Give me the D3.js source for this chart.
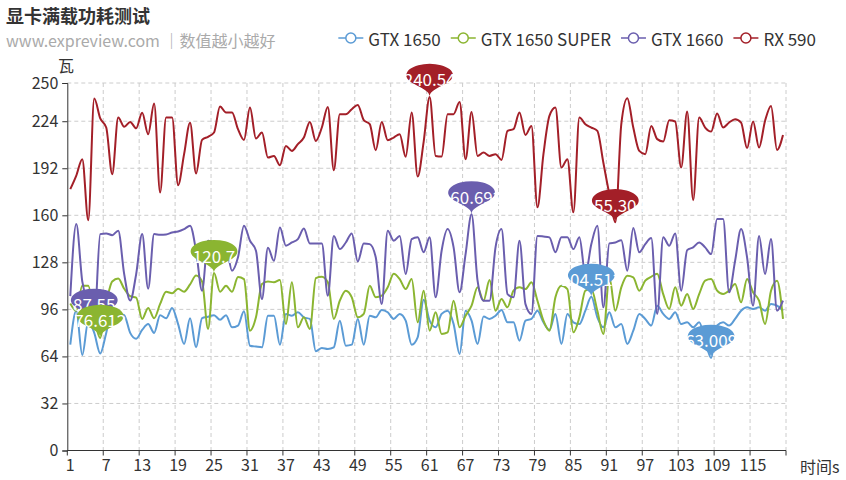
<!DOCTYPE html>
<html><head><meta charset="utf-8">
<script src="https://cdn.jsdelivr.net/npm/d3@7/dist/d3.min.js"></script>
<style>
body{margin:0;background:#fff;}
svg{display:block;font-family:"Noto Sans CJK SC","Noto Sans",sans-serif;}
</style></head><body><svg id="chart" width="846" height="480"></svg>
<script>
const titleText = "显卡满载功耗测试";
const subtitleText = "www.expreview.com ｜数值越小越好";
const xAxisName = "时间s";
const yAxisName = "瓦";
const categories = d3.range(1, 121).map(String);
const xTickLabels = ["1","7","13","19","25","31","37","43","49","55","61","67","73","79","85","91","97","103","109","115"];
const yTickValues = [0, 32, 64, 96, 128, 160, 192, 224, 250];
const seriesNames = ["GTX 1650", "GTX 1650 SUPER", "GTX 1660", "RX 590"];
const seriesColors = ["#5b9bd5", "#8bb531", "#6a5eae", "#a31f28"];

const gtx1650 = [72,95,65,88,80,66,80,96,93,92,80,76,82,86,80,92,90,97,86,72.5,
  90,70.2,90,91,92,89,92,83.8,85,94.7,71.3,70.7,70.2,91.7,91.7,72,92.9,91.7,94,90.6,
  89.5,67.5,69.8,69.1,70.2,88.3,71.3,72,89.5,72,91.7,90.6,95.6,94,89.5,92.9,88.3,72,77,102.5,
  88.3,83.8,92.9,95.1,86,65.7,95.1,88.3,72.5,91.1,89.5,91.7,95.6,87.2,87.2,74.7,88.3,89.5,95.1,87.2,
  82,92.9,72.5,92.9,87.2,86,95.1,104.513,90.6,83.8,94,83.8,86,72.5,81.5,92.9,89.5,85,98.5,92.9,
  89.5,94,86,87.2,83.8,87.2,75,63.009,85,87.2,85,89.5,95.1,97.4,96.3,97.4,95.1,99.7,98.5,95.1];

const gtx1650super = [100,95,112,112,90,76.612,100,115,117,110,105,104,89.5,97,90,99.7,108,107,110,108,
  113,119,115,82.7,120.7,108,112,108,118,116.6,81.5,90.6,113.2,115,114.4,116,86,114.4,83.8,90.6,
  82.7,117.3,118.2,114.4,89.5,101.9,108.7,104.2,90.6,92.9,112.1,104.2,105.3,111,120.2,116.6,109.8,116.6,87.2,108.7,
  81.5,94,79.3,80.4,101.9,83.8,91.7,98.5,111,101.9,116,95.1,103,97.4,108.7,111,109.8,114.4,101.9,88.3,
  81.5,104.2,112.1,109.8,80.4,90.6,108.7,109.8,95.1,79.3,117.8,95.1,111,118.9,117.8,108.7,115.5,118.2,120.2,106.4,
  96.3,111,98.5,106.4,96.3,106.4,115.5,116.6,108.7,106.4,108.7,113.2,100.8,116.6,107.6,101.9,86,108.7,115.5,89.5];

const gtx1660 = [105,154,115,100,87.55,147.2,147.7,146.5,149.5,120,102,120,147.2,110,147.2,146.8,147,148.3,149,150.6,
  152.9,135.9,108.7,142.7,141.5,133.6,138,122.3,131.4,152.9,142.7,135.9,103,138,129,151.7,139.3,141.5,143.8,151,
  140.9,140.9,140.9,105.3,146,137,141.5,147.7,128.6,140.9,140.4,131.4,99.6,149.5,142.7,146,120,143.8,145,134.8,
  145,104.2,135.9,150.6,138.2,107.6,133.6,160.692,115.5,101.9,101.9,138.2,150.6,106.4,104.2,142.7,99.6,92.9,146,145.6,
  145,134.8,145,145,137,145,120,140.4,152.9,97.4,140.9,141.5,143.1,122.3,151.3,134.8,140.4,144.5,92.9,145,
  139.3,147.7,108.7,136.3,138.2,141.5,138.2,133.6,157.4,157.4,107.6,129,150.6,131.4,98.5,146,120,143.8,95.1,101.9];

const rx590 = [177.8,187,198.2,156.7,239.4,226,219.7,188,226.5,220.2,223.5,219.2,229.7,215.2,236,175.5,226.5,226.5,180.5,201.6,
  223,188.4,211.3,213.4,216.3,234,229.9,229.9,218.6,211.3,233.3,212.2,216.3,199.3,200.4,194.1,207.2,203.8,208.4,212.9,
  223.5,210.6,219.7,233.7,190.7,228.8,228.8,232.2,235.1,224.7,222,204.3,223.5,211.1,212.9,215.2,199.8,229.9,186.4,210,
  240.54,200.4,200,228.8,228.8,237.1,198.2,230.3,200.4,202.7,200.4,201.6,197.7,217.4,218.6,229.9,214.7,220.8,165.4,201.6,
  227.6,233.3,192.5,198.2,162,226.5,222,219.7,217.4,195.9,174.4,155.304,222,239.6,219.7,203.8,201.6,220.8,211.8,210.2,
  224.7,223.8,192.5,230.6,170.3,226.5,219.7,217,229.2,219.7,223.1,225.4,223.1,205.7,223.8,206.1,224.2,234.4,204.5,214.7];

const seriesData = [gtx1650, gtx1650super, gtx1660, rx590];

const svg = d3.select("#chart");
const mLeft = 67.3, mRight = 786, mTop = 83, mBottom = 450.5;

const x = d3.scaleBand().domain(categories).range([mLeft, mRight]).padding(0);
const bw = x.bandwidth();
const cx = c => x(c) + bw / 2;
const y = d3.scaleLinear().domain([0, 250]).range([mBottom, mTop]);

// Title
svg.append("text").attr("x", 6).attr("y", 15).attr("dominant-baseline", "central")
  .attr("font-size", 18).attr("font-weight", "bold").attr("fill", "#333").text(titleText);
svg.append("text").attr("x", 6).attr("y", 40).attr("dominant-baseline", "central")
  .attr("font-size", 16).attr("fill", "#aaa").text(subtitleText);

// Grid
const grid = svg.append("g");
yTickValues.filter(v => v > 0).forEach(v => {
  grid.append("line").attr("x1", mLeft).attr("x2", mRight).attr("y1", y(v)).attr("y2", y(v))
    .attr("stroke", "#ccc").attr("stroke-dasharray", "4,3");
});
const tickBoundaries = xTickLabels.map(c => x(c)).concat([mRight]);
tickBoundaries.filter(px => px > mLeft + 1).forEach(px => {
  grid.append("line").attr("x1", px).attr("x2", px).attr("y1", mTop).attr("y2", mBottom)
    .attr("stroke", "#ccc").attr("stroke-dasharray", "4,3");
});

// Y axis
const yAxis = svg.append("g").attr("transform", `translate(${mLeft},0)`)
  .call(d3.axisLeft(y).tickValues(yTickValues).tickSize(5).tickPadding(4));
yAxis.selectAll("text").attr("font-size", 16).attr("fill", "#333").attr("font-family", "Noto Sans CJK SC");
yAxis.selectAll("line, path").attr("stroke", "#333");
svg.append("text").attr("x", 66).attr("y", 65).attr("text-anchor", "middle").attr("dominant-baseline", "central")
  .attr("font-size", 16).attr("fill", "#333").text(yAxisName);

// X axis
const xAxis = svg.append("g").attr("transform", `translate(0,${mBottom})`)
  .call(d3.axisBottom(x).tickValues(xTickLabels).tickSize(0).tickPadding(9));
xAxis.select(".domain").remove();
xAxis.selectAll("text").attr("font-size", 16).attr("fill", "#333").attr("font-family", "Noto Sans CJK SC");
svg.append("line").attr("x1", mLeft).attr("x2", mRight).attr("y1", mBottom).attr("y2", mBottom).attr("stroke", "#333");
tickBoundaries.forEach(px => {
  svg.append("line").attr("x1", px).attr("x2", px).attr("y1", mBottom).attr("y2", mBottom + 5).attr("stroke", "#333");
});
svg.append("text").attr("x", 800).attr("y", 466).attr("dominant-baseline", "central")
  .attr("font-size", 16).attr("fill", "#333").text(xAxisName);

// Lines
const line = d3.line().x((d, i) => cx(categories[i])).y(d => y(d)).curve(d3.curveMonotoneX);
seriesData.forEach((data, si) => {
  svg.append("path").datum(data).attr("d", line).attr("fill", "none")
    .attr("stroke", seriesColors[si]).attr("stroke-width", 2).attr("stroke-linejoin", "round");
});

// Pin markers (max / min)
function pinPath() {
  const w = 30, h = 50, r = w / 2;
  const dy = r * r / (h - r);
  const cyy = -h + r + dy;
  const ang = Math.asin(dy / r);
  const dx = Math.cos(ang) * r;
  const tx = Math.sin(ang), ty = Math.cos(ang);
  const c1 = r * 0.6, c2 = r * 0.7;
  const p = d3.path();
  p.moveTo(-dx, cyy + dy);
  p.arc(0, cyy, r, Math.PI - ang, Math.PI * 2 + ang);
  p.bezierCurveTo(dx - tx * c1, cyy + dy + ty * c1, 0, -c2, 0, 0);
  p.bezierCurveTo(0, -c2, -dx + tx * c1, cyy + dy + ty * c1, -dx, cyy + dy);
  p.closePath();
  return p.toString();
}
const pinD = pinPath();
const markOrder = [0, 2, 1, 3];
markOrder.forEach(si => {
  const data = seriesData[si];
  [d3.maxIndex(data), d3.minIndex(data)].forEach(idx => {
    const px = cx(categories[idx]), py = y(data[idx]);
    const g = svg.append("g").attr("transform", `translate(${px},${py})`);
    g.append("path").attr("d", pinD).attr("transform", "scale(1.56,0.76)").attr("fill", seriesColors[si]);
    g.append("text").attr("x", 0).attr("y", -18).attr("text-anchor", "middle").attr("dominant-baseline", "central")
      .attr("font-size", 17).attr("fill", "#fff").text(String(data[idx]));
  });
});

// Legend (right aligned, ends at x=816)
const legend = svg.append("g");
const items = seriesNames.map((name, i) => {
  const g = legend.append("g");
  g.append("line").attr("x1", 0).attr("x2", 25).attr("y1", 0).attr("y2", 0)
    .attr("stroke", seriesColors[i]).attr("stroke-width", 1.5);
  g.append("circle").attr("cx", 12.5).attr("cy", 0).attr("r", 5).attr("fill", "#fff")
    .attr("stroke", seriesColors[i]).attr("stroke-width", 1.5);
  const t = g.append("text").attr("x", 30).attr("y", 0).attr("dominant-baseline", "central")
    .attr("font-size", 17).attr("fill", "#333").text(name);
  return {g, w: 30 + t.node().getComputedTextLength()};
});
let cur = 816;
for (let i = items.length - 1; i >= 0; i--) {
  cur -= items[i].w;
  items[i].g.attr("transform", `translate(${cur},38)`);
  cur -= 10;
}
</script></body></html>
